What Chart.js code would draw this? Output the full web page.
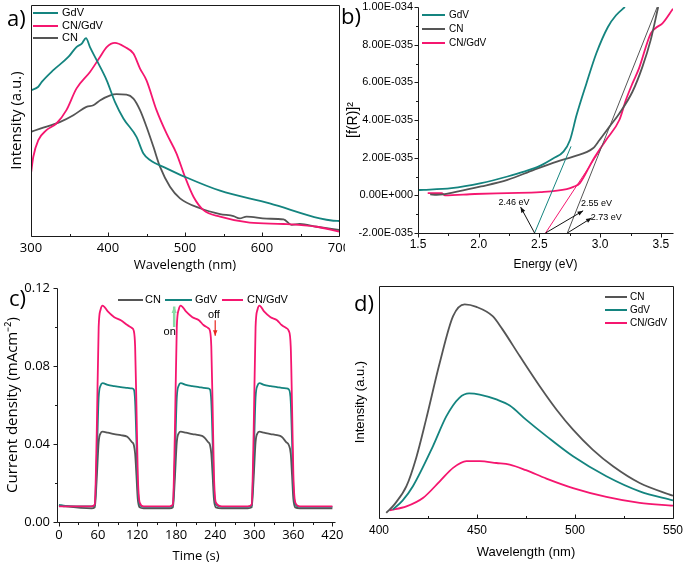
<!DOCTYPE html>
<html lang="en">
<head>
<meta charset="UTF-8">
<title>CN, GdV and CN/GdV optical and photocurrent data</title>
<script src="https://cdn.jsdelivr.net/npm/chart.js"></script>
<style>
  html, body { margin: 0; padding: 0; background: #fff; }
  #figure { position: relative; width: 685px; height: 565px; overflow: hidden; background: #fff; }
  #figure canvas { position: absolute; }
  .tag { position: absolute; font: 22px/22px 'Open Sans', sans-serif; color: #000; }
</style>
</head>
<body>
<div id="figure">
  <canvas id="chartA" width="345" height="280" style="left:0;top:0"></canvas>
  <canvas id="chartB" width="345" height="280" style="left:340px;top:0"></canvas>
  <canvas id="chartC" width="345" height="285" style="left:0;top:280px"></canvas>
  <canvas id="chartD" width="345" height="285" style="left:340px;top:280px"></canvas>
  <div class="tag" style="left:7px;top:6px">a)</div>
  <div class="tag" style="left:341px;top:4px">b)</div>
  <div class="tag" style="left:9px;top:286px">c)</div>
  <div class="tag" style="left:354px;top:291px">d)</div>
</div>

<script>
  const TEAL = '#14847f';
  const PINK = '#f5166f';
  const GRAY = '#555555';
  const ARIAL = "'Liberation Sans', Arial, sans-serif";
  const OPEN = "'Open Sans', sans-serif";

  // a) absorption spectra
  const aGdvWl = [300, 309.5, 314, 329, 348.5, 359, 366, 371.4, 376.6, 385.3, 398.3, 409, 420, 437, 446, 454.5, 476, 500, 545.5, 610, 675, 692.6, 700];
  const aGdvInt = [63.1, 64.6, 66.7, 71.8, 77.5, 81.8, 83.3, 85.7, 81.8, 76.1, 67.4, 58.1, 50.9, 42.9, 35.7, 32.9, 29.3, 25.6, 19.6, 14.1, 7.6, 6.6, 6.5];
  const aCompWl = [300, 303, 309.5, 320, 333, 346, 359, 376.6, 389.6, 398.3, 409, 422, 433, 441.6, 450, 463, 476, 489, 500, 511, 524, 545.5, 584, 628, 671, 700];
  const aCompInt = [27.1, 34.3, 41.5, 45.8, 48.7, 54.5, 63.8, 71, 77.5, 81.8, 83.6, 81.8, 79, 72.5, 67.4, 54.5, 44.4, 35.7, 25.6, 17, 11.2, 8.4, 5.8, 5.2, 4, 1.9];
  const aCnWl = [300, 312, 338, 355, 372, 381, 390, 403, 411, 424, 433, 441.6, 450, 459, 467.5, 480.5, 493.5, 519.5, 545.5, 563, 571, 580, 606, 628, 638.5, 649, 671, 700];
  const aCnInt = [45.1, 46.5, 49.4, 52.3, 55.9, 56.6, 58.8, 60.9, 61.4, 61.2, 59.5, 54.5, 47.3, 38.6, 30, 21.3, 16.3, 12, 9.5, 8.6, 7.6, 8.4, 7.5, 7.2, 4.8, 5.2, 4, 2.6];
  const aWlTicks = [300, 400, 500, 600, 700];
  const aWlMinor = [350, 450, 550, 650];

  // b) Tauc plot, [f(R)]^2 in units of 1E-035
  const bGdvE = [1.5, 1.546, 1.776, 2.02, 2.237, 2.373, 2.508, 2.616, 2.698, 2.752, 2.806, 2.887, 2.968, 3.064, 3.131, 3.204];
  const bGdvF = [0.28, 0.29, 0.38, 0.65, 1.0, 1.26, 1.58, 1.97, 2.32, 2.94, 4.26, 5.94, 7.53, 8.94, 9.56, 10];
  const bCnE = [1.6, 1.654, 1.831, 2.02, 2.237, 2.454, 2.644, 2.779, 2.941, 2.995, 3.077, 3.158, 3.266, 3.348, 3.416, 3.478];
  const bCnF = [0.05, 0.03, 0.21, 0.47, 0.82, 1.35, 1.79, 2.06, 2.5, 2.94, 3.65, 4.35, 5.5, 6.82, 8.24, 10];
  const bCompE = [1.58, 1.614, 1.695, 1.72, 1.966, 2.237, 2.508, 2.725, 2.78, 2.833, 2.941, 3.049, 3.158, 3.212, 3.266, 3.32, 3.416, 3.46, 3.511, 3.6];
  const bCompF = [0.12, 0.12, 0.12, 0.0, 0.07, 0.12, 0.17, 0.33, 0.45, 0.65, 1.88, 2.94, 4.0, 5.06, 5.94, 6.74, 8.59, 8.9, 9.12, 9.91];
  const bGapEv = [2.46, 2.55, 2.73];
  const bFitEndE = [2.76, 3.0, 3.47];
  const bFitEndF = [2.6, 2.4, 10];
  const bArrowE = [2.345, 2.86, 2.93];
  const bArrowF = [-0.62, -0.82, -1.2];
  const bLabelE = [2.29, 2.97, 3.05];
  const bLabelF = [-0.4, -0.45, -1.2];
  const bETicks = [1.5, 2.0, 2.5, 3.0, 3.5];
  const bEMinor = [1.75, 2.25, 2.75, 3.25];
  const bFTicks = [-2, 0, 2, 4, 6, 8, 10];
  const bFMinor = [-1, 1, 3, 5, 7, 9];
  const bFLabels = ['-2.00E-035', '0.00E+000', '2.00E-035', '4.00E-035', '6.00E-035', '8.00E-035', '1.00E-034'];

  // c) transient photocurrent
  const cTime = [0, 10,
    50, 55, 58, 61, 64, 67, 75, 85, 95, 105, 112, 115, 117, 119, 121, 124, 130,
    170, 175, 178, 181, 184, 187, 195, 205, 215, 222, 229, 232, 234, 236, 238, 241, 250,
    290, 296, 299, 302, 305, 308, 315, 325, 335, 342, 349, 353, 356, 358, 360, 363, 370,
    420];
  const cComp = [0.008, 0.008,
    0.008, 0.009, 0.045, 0.1, 0.109, 0.111, 0.108, 0.105, 0.1035, 0.101, 0.0995, 0.098, 0.09, 0.06, 0.025, 0.01, 0.008,
    0.008, 0.009, 0.045, 0.1, 0.109, 0.111, 0.108, 0.105, 0.1035, 0.101, 0.0995, 0.098, 0.09, 0.06, 0.025, 0.01, 0.008,
    0.008, 0.009, 0.045, 0.1, 0.109, 0.111, 0.108, 0.105, 0.1035, 0.101, 0.0995, 0.098, 0.09, 0.06, 0.025, 0.01, 0.008,
    0.008];
  const cGdv = [0.0088, 0.0083,
    0.008, 0.0085, 0.032, 0.064, 0.07, 0.0712, 0.0703, 0.0697, 0.0692, 0.0688, 0.0685, 0.068, 0.062, 0.042, 0.018, 0.009, 0.0078,
    0.0078, 0.0085, 0.032, 0.064, 0.07, 0.0712, 0.0703, 0.0697, 0.0692, 0.0688, 0.0685, 0.068, 0.062, 0.042, 0.018, 0.009, 0.0078,
    0.0078, 0.0085, 0.032, 0.064, 0.07, 0.0712, 0.0703, 0.0697, 0.0692, 0.0688, 0.0685, 0.068, 0.062, 0.042, 0.018, 0.009, 0.0078,
    0.0078];
  const cCn = [0.0085, 0.008,
    0.007, 0.0075, 0.022, 0.041, 0.0455, 0.0463, 0.0458, 0.0451, 0.0445, 0.0437, 0.041, 0.0395, 0.035, 0.024, 0.012, 0.0075, 0.007,
    0.007, 0.0075, 0.022, 0.041, 0.0455, 0.0463, 0.0458, 0.0451, 0.0445, 0.0437, 0.041, 0.0395, 0.035, 0.024, 0.012, 0.0075, 0.007,
    0.007, 0.0075, 0.022, 0.041, 0.0455, 0.0463, 0.0458, 0.0451, 0.0445, 0.0437, 0.041, 0.0395, 0.035, 0.024, 0.012, 0.0075, 0.007,
    0.007];
  const cTimeTicks = [0, 60, 120, 180, 240, 300, 360, 420];
  const cTimeMinor = [30, 90, 150, 210, 270, 330, 390];
  const cCurTicks = [0, 0.04, 0.08, 0.12];
  const cCurMinor = [0.02, 0.06, 0.1];
  // light on / off markers: [time, from, to]
  const cOnArrow = [177, 0.1, 0.1105];
  const cOffArrow = [240, 0.1035, 0.0955];
  const cOnLabel = [170, 0.0975];
  const cOffLabel = [238, 0.1062];

  // d) PL spectra
  const dCnWl = [403.7, 408, 414, 419, 424, 431, 437.8, 443.7, 449.7, 458, 463, 471.8, 482, 490.5, 499, 509, 519.4, 533, 550];
  const dCnInt = [2.2, 6, 13.7, 26, 42.4, 66.9, 87, 92.1, 91, 87, 81.3, 69.8, 56.8, 46.8, 38.1, 29.5, 22.3, 15.1, 9.6];
  const dGdvWl = [407, 412, 417.3, 427.5, 434.4, 441, 446, 451.4, 459.9, 466.7, 475, 485.4, 499, 516, 533, 550];
  const dGdvInt = [3.6, 7.5, 13.7, 30.9, 43.9, 51.8, 53.7, 53.2, 51.1, 48.5, 42.4, 35.3, 26.6, 18, 11.5, 7.6];
  const dCompWl = [405.4, 414, 422.4, 431, 437.8, 444.6, 451.4, 459.9, 466.7, 475, 485.4, 499, 516, 533, 550];
  const dCompInt = [3.3, 5, 8.6, 15.8, 21.6, 24.5, 24.5, 23.7, 23, 20.6, 17, 12.9, 9.1, 6.5, 5.3];
  const dWlTicks = [400, 450, 500, 550];
  const dWlMinor = [425, 475, 525];

  Chart.defaults.animation = false;
  Chart.defaults.events = [];
  Chart.defaults.plugins.legend.display = false;
  Chart.defaults.plugins.tooltip.enabled = false;

  function series(label, xs, ys, color, width) {
    return {
      label: label,
      data: xs.map((x, i) => ({ x: x, y: ys[i] })),
      borderColor: color,
      backgroundColor: color,
      borderWidth: width || 1.8,
      pointRadius: 0,
      cubicInterpolationMode: 'monotone',
      fill: false
    };
  }

  function axis(o) {
    return {
      type: 'linear',
      min: o.min,
      max: o.max,
      grid: { display: false, drawTicks: false },
      border: { display: false },
      afterBuildTicks: s => { s.ticks = (o.ticks || []).map(v => ({ value: v })); },
      ticks: {
        display: !!o.ticks,
        autoSkip: false,
        maxRotation: 0,
        padding: o.pad || 0,
        color: '#000',
        font: o.tickFont,
        callback: o.fmt || (v => String(v))
      },
      title: { display: true, text: o.title, color: '#000', font: o.titleFont, padding: o.titlePad },
      afterFit: s => {
        if (o.w !== undefined) s.width = o.w;
        if (o.h !== undefined) s.height = o.h;
        s.paddingLeft = 0; s.paddingRight = 0; s.paddingTop = 0; s.paddingBottom = 0;
      }
    };
  }

  // axis lines, tick marks and the in-plot legend
  const decor = {
    id: 'decor',
    afterDatasetsDraw(chart, args, o) {
      const { ctx, chartArea: ca, scales } = chart;
      const L = Math.round(ca.left) + 0.5, R = Math.round(ca.right) + 0.5;
      const T = Math.round(ca.top) + 0.5, B = Math.round(ca.bottom) + 0.5;
      const d = o.inward ? -1 : 1;
      ctx.save();
      ctx.strokeStyle = '#1a1a1a';
      ctx.lineWidth = 1;
      ctx.beginPath();
      if (o.frame) {
        ctx.rect(L, T, R - L, B - T);
      } else {
        ctx.moveTo(L, T); ctx.lineTo(L, B); ctx.lineTo(R, B);
      }
      const markX = (vals, len) => vals.forEach(v => {
        const p = Math.round(scales.x.getPixelForValue(v)) + 0.5;
        ctx.moveTo(p, B); ctx.lineTo(p, B + d * len);
      });
      const markY = (vals, len) => vals.forEach(v => {
        const p = Math.round(scales.y.getPixelForValue(v)) + 0.5;
        ctx.moveTo(L, p); ctx.lineTo(L - d * len, p);
      });
      markX(o.xMajor || [], 4); markX(o.xMinor || [], 2.5);
      markY(o.yMajor || [], 4); markY(o.yMinor || [], 2.5);
      ctx.stroke();

      if (o.legend) {
        const lg = o.legend;
        ctx.font = lg.font;
        ctx.textBaseline = 'middle';
        ctx.fillStyle = '#000';
        lg.rows.forEach(r => {
          const ds = chart.data.datasets[r.ds];
          ctx.beginPath();
          ctx.strokeStyle = ds.borderColor;
          ctx.lineWidth = 2;
          ctx.moveTo(r.x0, r.y); ctx.lineTo(r.x1, r.y);
          ctx.stroke();
          ctx.fillText(ds.label, r.tx, r.y);
        });
      }
      ctx.restore();
    }
  };

  // extra lines, arrows and notes placed in data units
  const notes = {
    id: 'notes',
    afterDatasetsDraw(chart, args, o) {
      if (!o.items) return;
      const { ctx, scales: { x, y } } = chart;
      ctx.save();
      o.items.forEach(m => {
        if (m.text) {
          ctx.font = m.font;
          ctx.fillStyle = m.color || '#000';
          ctx.textAlign = 'center';
          ctx.textBaseline = 'middle';
          ctx.fillText(m.text, x.getPixelForValue(m.at[0]), y.getPixelForValue(m.at[1]));
          return;
        }
        const x0 = x.getPixelForValue(m.x[0]), y0 = y.getPixelForValue(m.y[0]);
        const x1 = x.getPixelForValue(m.x[1]), y1 = y.getPixelForValue(m.y[1]);
        ctx.strokeStyle = m.color;
        ctx.fillStyle = m.color;
        ctx.lineWidth = m.width;
        ctx.beginPath(); ctx.moveTo(x0, y0); ctx.lineTo(x1, y1); ctx.stroke();
        if (m.head) {
          const a = Math.atan2(y1 - y0, x1 - x0), h = m.head;
          ctx.beginPath();
          ctx.moveTo(x1, y1);
          ctx.lineTo(x1 - h * Math.cos(a - 0.38), y1 - h * Math.sin(a - 0.38));
          ctx.lineTo(x1 - h * Math.cos(a + 0.38), y1 - h * Math.sin(a + 0.38));
          ctx.closePath();
          ctx.fill();
        }
      });
      ctx.restore();
    }
  };

  const base = {
    responsive: false,
    devicePixelRatio: 1,
    animation: false
  };

  // ---- a)
  new Chart(document.getElementById('chartA'), {
    type: 'line',
    data: { datasets: [
      series('GdV', aGdvWl, aGdvInt, TEAL),
      series('CN/GdV', aCompWl, aCompInt, PINK),
      series('CN', aCnWl, aCnInt, GRAY)
    ] },
    options: Object.assign({}, base, {
      layout: { padding: { left: 0, right: 6, top: 5, bottom: 0 } },
      scales: {
        x: axis({ min: 300, max: 700, ticks: aWlTicks, h: 44, pad: 4,
          tickFont: { family: OPEN, size: 13 }, title: 'Wavelength (nm)',
          titleFont: { family: OPEN, size: 13 }, titlePad: { top: 0, bottom: 7 } }),
        y: axis({ min: 0, max: 100, w: 31,
          title: 'Intensity (a.u.)', titleFont: { family: OPEN, size: 15 }, titlePad: { top: 8, bottom: 0 } })
      },
      plugins: {
        decor: { frame: true, inward: true, xMajor: aWlTicks, xMinor: aWlMinor,
          legend: { font: '11px ' + ARIAL, rows: [
            { ds: 0, x0: 33, x1: 58, tx: 62, y: 13 },
            { ds: 1, x0: 33, x1: 58, tx: 62, y: 26 },
            { ds: 2, x0: 33, x1: 58, tx: 62, y: 38 }
          ] } }
      }
    }),
    plugins: [decor]
  });

  // ---- b)
  const bNotes = [];
  bGapEv.forEach((g, i) => {
    const c = [TEAL, PINK, GRAY][i];
    bNotes.push({ x: [g, bFitEndE[i]], y: [-2, bFitEndF[i]], color: c, width: 1 });
  });
  bGapEv.forEach((g, i) => {
    bNotes.push({ x: [g, bArrowE[i]], y: [-2, bArrowF[i]], color: '#111', width: 1, head: 6 });
    bNotes.push({ text: g.toFixed(2) + ' eV', at: [bLabelE[i], bLabelF[i]], font: '9px ' + ARIAL });
  });

  new Chart(document.getElementById('chartB'), {
    type: 'line',
    data: { datasets: [
      series('GdV', bGdvE, bGdvF, TEAL),
      series('CN', bCnE, bCnF, GRAY),
      series('CN/GdV', bCompE, bCompF, PINK)
    ] },
    options: Object.assign({}, base, {
      layout: { padding: { left: 0, right: 12, top: 7, bottom: 0 } },
      scales: {
        x: axis({ min: 1.5, max: 3.6, ticks: bETicks, h: 47, pad: 4, fmt: v => v.toFixed(1),
          tickFont: { family: ARIAL, size: 12 }, title: 'Energy (eV)',
          titleFont: { family: ARIAL, size: 12 }, titlePad: { top: 0, bottom: 8 } }),
        y: axis({ min: -2, max: 10, ticks: bFTicks, w: 78, pad: 5,
          fmt: v => bFLabels[bFTicks.indexOf(v)],
          tickFont: { family: ARIAL, size: 11 }, title: '[f(R)]²',
          titleFont: { family: ARIAL, size: 14 }, titlePad: { top: 5, bottom: 0 } })
      },
      plugins: {
        decor: { xMajor: bETicks, xMinor: bEMinor, yMajor: bFTicks, yMinor: bFMinor,
          legend: { font: '10px ' + ARIAL, rows: [
            { ds: 0, x0: 82, x1: 105, tx: 109, y: 15 },
            { ds: 1, x0: 82, x1: 105, tx: 109, y: 29 },
            { ds: 2, x0: 82, x1: 105, tx: 109, y: 43 }
          ] } },
        notes: { items: bNotes }
      }
    }),
    plugins: [decor, notes]
  });

  // ---- c)
  new Chart(document.getElementById('chartC'), {
    type: 'line',
    data: { datasets: [
      series('CN/GdV', cTime, cComp, PINK),
      series('GdV', cTime, cGdv, TEAL),
      series('CN', cTime, cCn, GRAY)
    ] },
    options: Object.assign({}, base, {
      layout: { padding: { left: 0, right: 10, top: 8, bottom: 0 } },
      scales: {
        x: axis({ min: -3, max: 424, ticks: cTimeTicks, h: 43, pad: 5,
          tickFont: { family: OPEN, size: 13 }, title: 'Time (s)',
          titleFont: { family: OPEN, size: 13 }, titlePad: { top: 0, bottom: 1 } }),
        y: axis({ min: 0, max: 0.12, ticks: cCurTicks, w: 57, pad: 7, fmt: v => v.toFixed(2),
          tickFont: { family: OPEN, size: 13 }, title: 'Current density (mAcm⁻²)',
          titleFont: { family: OPEN, size: 15 }, titlePad: { top: 4, bottom: 0 } })
      },
      plugins: {
        decor: { xMajor: cTimeTicks, xMinor: cTimeMinor, yMajor: cCurTicks, yMinor: cCurMinor,
          legend: { font: '11px ' + ARIAL, rows: [
            { ds: 2, x0: 118, x1: 143, tx: 145, y: 20 },
            { ds: 1, x0: 165, x1: 192, tx: 195, y: 20 },
            { ds: 0, x0: 222, x1: 243, tx: 247, y: 20 }
          ] } },
        notes: { items: [
          { x: [cOnArrow[0], cOnArrow[0]], y: [cOnArrow[1], cOnArrow[2]], color: '#86dca4', width: 2.5, head: 7 },
          { x: [cOffArrow[0], cOffArrow[0]], y: [cOffArrow[1], cOffArrow[2]], color: '#e8261e', width: 1.2, head: 6 },
          { text: 'on', at: cOnLabel, font: '11px ' + ARIAL },
          { text: 'off', at: cOffLabel, font: '11px ' + ARIAL }
        ] }
      }
    }),
    plugins: [decor, notes]
  });

  // ---- d)
  new Chart(document.getElementById('chartD'), {
    type: 'line',
    data: { datasets: [
      series('CN', dCnWl, dCnInt, GRAY),
      series('GdV', dGdvWl, dGdvInt, TEAL),
      series('CN/GdV', dCompWl, dCompInt, PINK)
    ] },
    options: Object.assign({}, base, {
      layout: { padding: { left: 0, right: 12, top: 6, bottom: 0 } },
      scales: {
        x: axis({ min: 400, max: 550, ticks: dWlTicks, h: 47, pad: 5,
          tickFont: { family: ARIAL, size: 12 }, title: 'Wavelength (nm)',
          titleFont: { family: ARIAL, size: 13 }, titlePad: { top: 0, bottom: 5 } }),
        y: axis({ min: 0, max: 100, w: 39,
          title: 'Intensity (a.u.)', titleFont: { family: ARIAL, size: 13 }, titlePad: { top: 13, bottom: 0 } })
      },
      plugins: {
        decor: { frame: true, inward: true, xMajor: dWlTicks, xMinor: dWlMinor,
          legend: { font: '10px ' + ARIAL, rows: [
            { ds: 0, x0: 265, x1: 287, tx: 290, y: 17 },
            { ds: 1, x0: 265, x1: 287, tx: 290, y: 30 },
            { ds: 2, x0: 265, x1: 287, tx: 290, y: 43 }
          ] } }
      }
    }),
    plugins: [decor]
  });
</script>
</body>
</html>
